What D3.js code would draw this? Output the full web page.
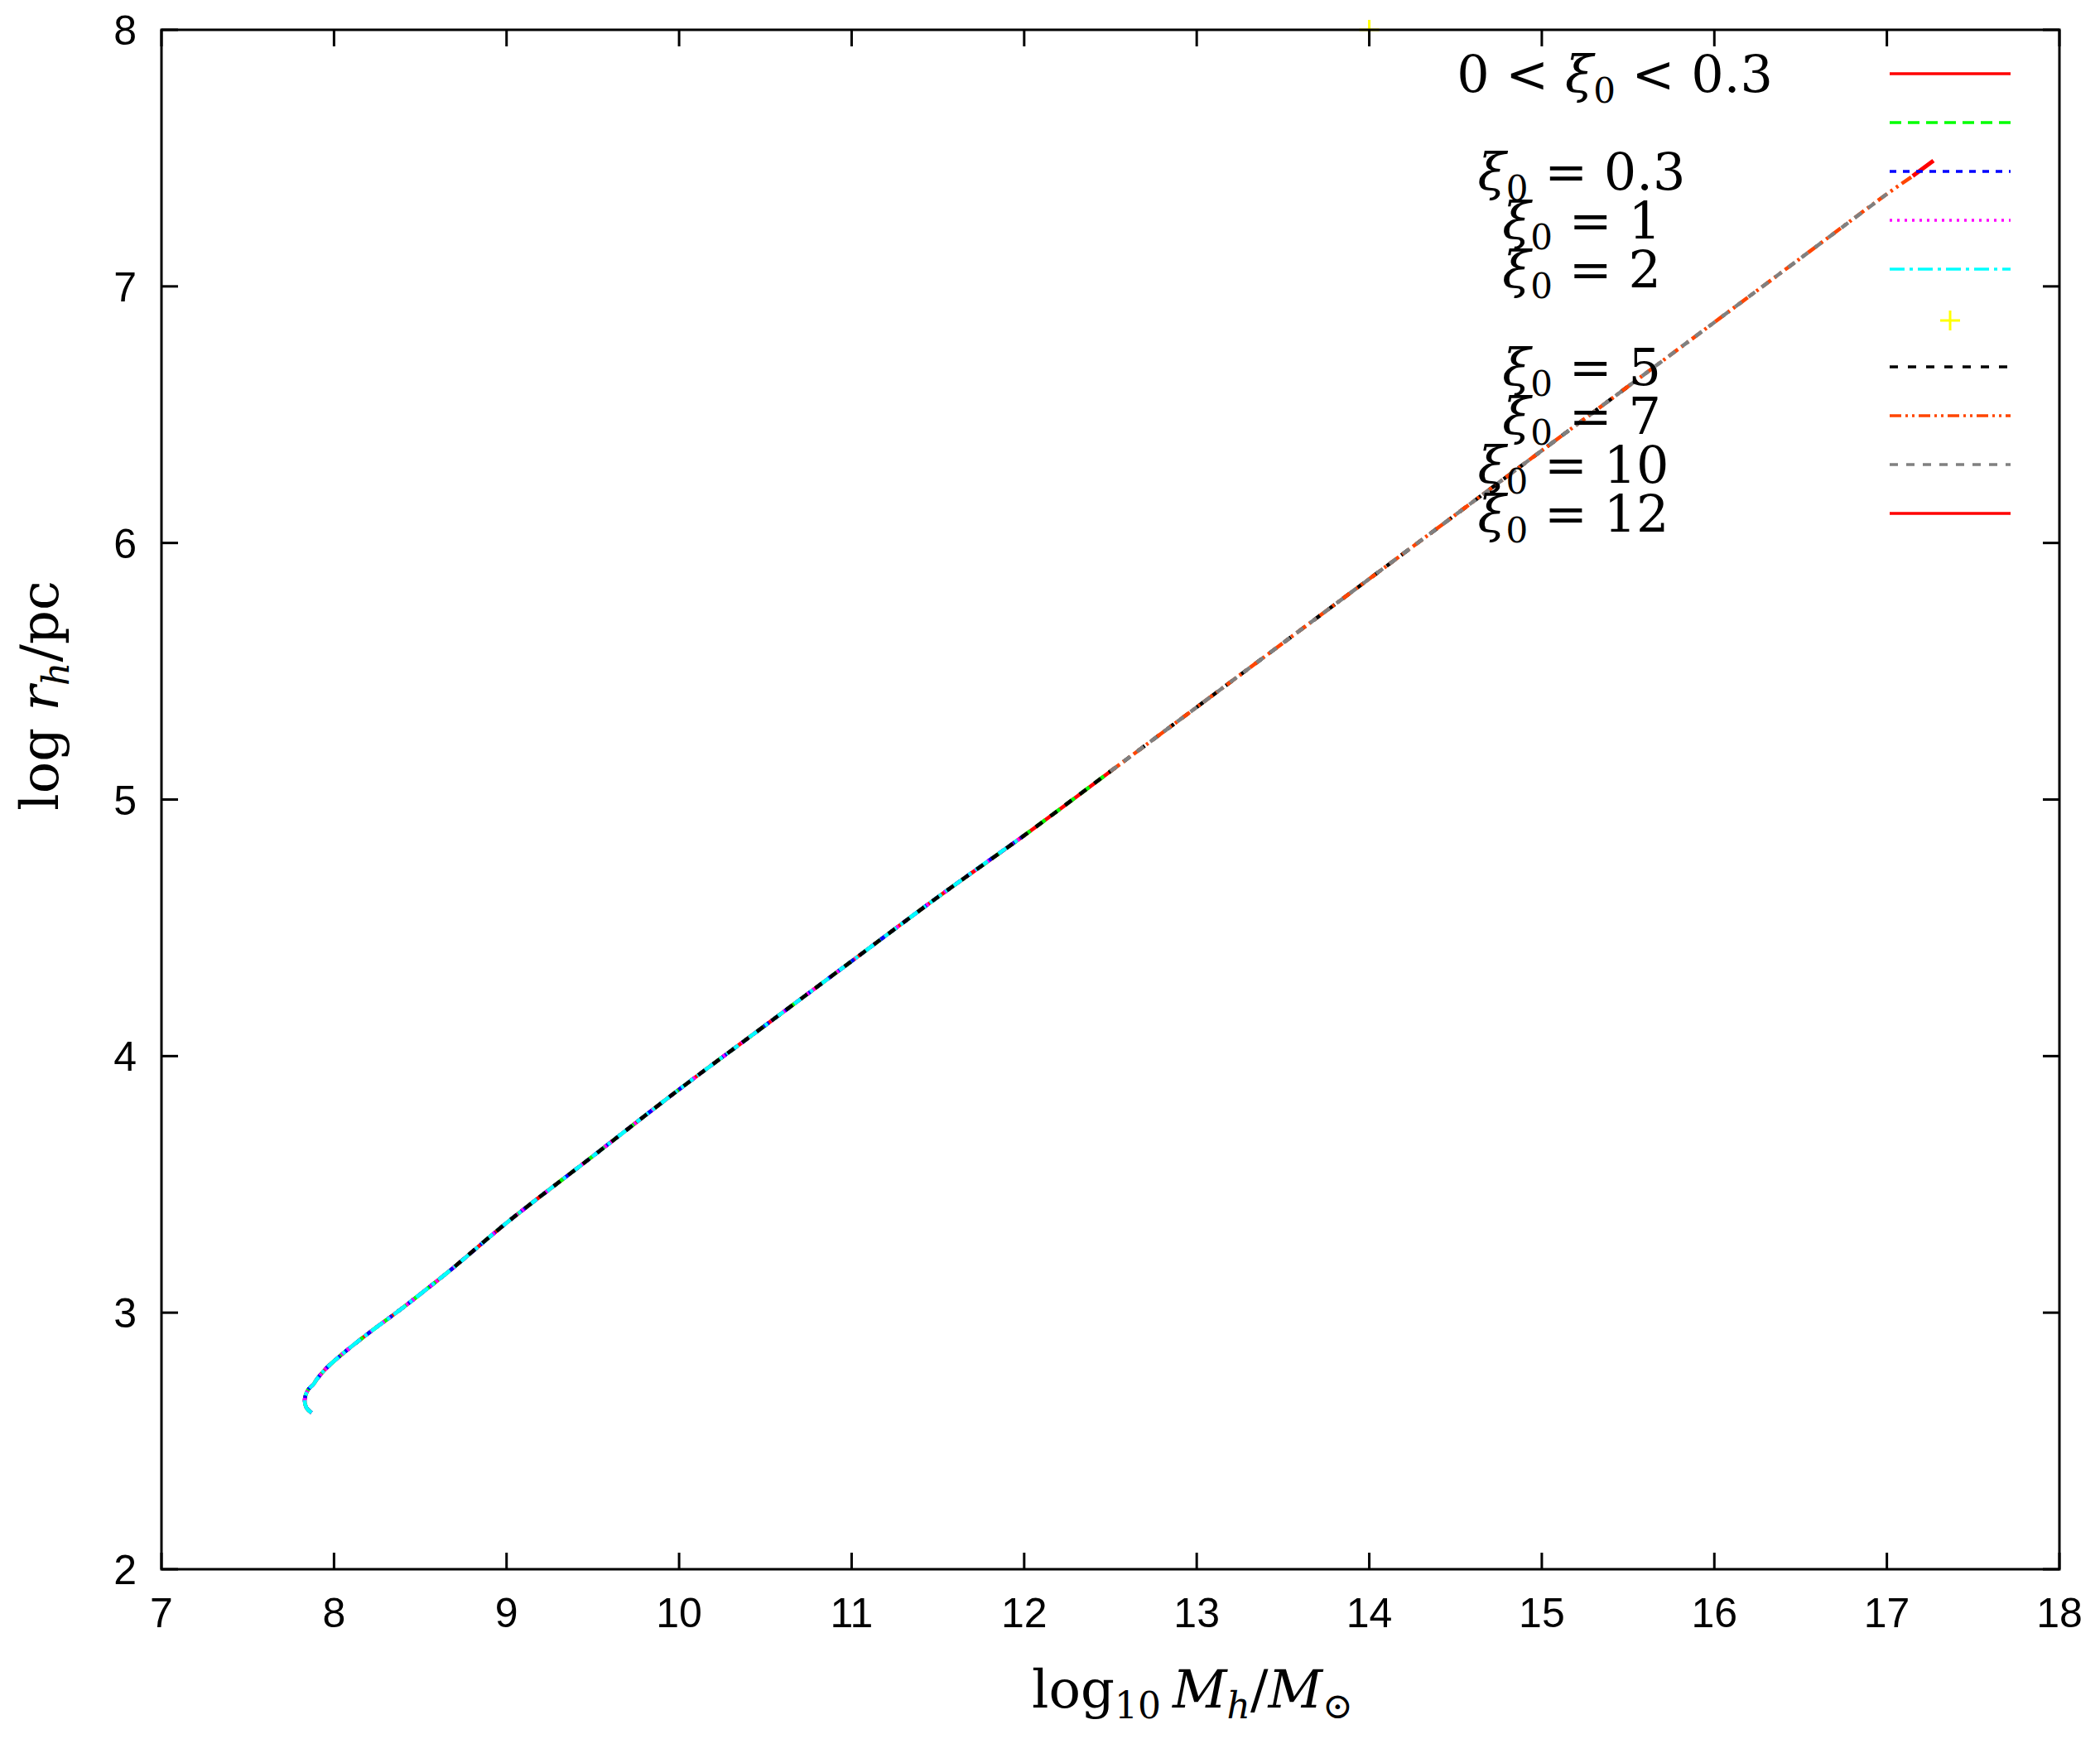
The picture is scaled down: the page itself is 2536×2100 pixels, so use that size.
<!DOCTYPE html>
<html>
<head>
<meta charset="utf-8">
<style>
body { margin: 0; background: #fff; }
</style>
</head>
<body>
<div id="graph"></div>
<script src="https://d3js.org/d3.v7.min.js"></script>
<script>
// track (log10 M_h, log r_h)
var trackX = [7.87, 7.84, 7.83, 7.85, 7.88, 7.90, 7.95, 8.05, 8.2, 8.4, 8.7, 9.0, 9.5, 10.0, 10.5, 11.0, 11.5, 12.0, 12.5, 13.0, 13.5, 14.0, 14.5, 15.0, 15.5, 16.0, 16.5, 17.0, 17.15, 17.27];
var trackY = [2.61, 2.63, 2.66, 2.70, 2.72, 2.74, 2.78, 2.84, 2.92, 3.02, 3.18, 3.35, 3.61, 3.87, 4.12, 4.37, 4.62, 4.86, 5.11, 5.36, 5.61, 5.86, 6.11, 6.36, 6.61, 6.86, 7.11, 7.36, 7.43, 7.49];

var labels = ["0 < ξ0 < 0.3", "", "ξ0 = 0.3", "ξ0 = 1", "ξ0 = 2", "", "ξ0 = 5", "ξ0 = 7", "ξ0 = 10", "ξ0 = 12"];
var colors = ["#ff0000", "#00ff00", "#0000ff", "#ff00ff", "#00ffff", "#ffff00", "#000000", "#ff4500", "#808080", "#ff0000"];
var dashes = [null, "14,8", "8,8", "3,6", "18,6,4,6", null, "10,12,10,12", "14,5,3,5,3,5", "10,10", null];
// x range each series covers along the track
var rangeMin = [7.8, 7.8, 7.8, 7.8, 7.8, 14, 8.5, 12.5, 12.5, 12.5];
var rangeMax = [12.5, 12.6, 12.0, 12.0, 12.2, 14, 15.5, 17.2, 17.1, 12.6];
var yellowX = [14.0];
var yellowY = [8.0];
var xTicks = [7, 8, 9, 10, 11, 12, 13, 14, 15, 16, 17, 18];
var yTicks = [2, 3, 4, 5, 6, 7, 8];

var W = 2536, H = 2100;
var margin = { top: 36, right: 49, bottom: 205, left: 195 };
var width = W - margin.left - margin.right;
var height = H - margin.top - margin.bottom;

var svg = d3.select("#graph").append("svg")
  .attr("width", W).attr("height", H);
var g = svg.append("g")
  .attr("transform", "translate(" + margin.left + "," + margin.top + ")");

var x = d3.scaleLinear().domain([7, 18]).range([0, width]);
var y = d3.scaleLinear().domain([2, 8]).range([height, 0]);

var pts = trackX.map(function(v, i) { return [v, trackY[i]]; });
var line = d3.line().curve(d3.curveCatmullRom)
  .x(function(d) { return x(d[0]); })
  .y(function(d) { return y(d[1]); });

var order = [0, 1, 2, 3, 9, 4, 6, 7, 8];
order.forEach(function(i) {
  var sub = pts.filter(function(d) { return (d[0] >= rangeMin[i] && d[0] <= rangeMax[i]) || (i < 5 && d[1] < 3); });
  if (sub.length < 2) return;
  g.append("path").datum(sub)
    .attr("fill", "none")
    .attr("stroke", colors[i])
    .attr("stroke-width", 4.5)
    .attr("stroke-dasharray", dashes[i])
    .attr("d", line);
});
// red tip at the upper end
g.append("path").datum(pts.slice(-2))
  .attr("fill", "none").attr("stroke", "#ff0000").attr("stroke-width", 5).attr("d", line);

// yellow points
function plus(sel, cx, cy, s) {
  sel.append("path")
    .attr("d", "M" + (cx - s) + "," + cy + "H" + (cx + s) + "M" + cx + "," + (cy - s) + "V" + (cy + s))
    .attr("stroke", "#ffff00").attr("stroke-width", 3);
}
yellowX.forEach(function(v, i) { plus(g, x(v), y(yellowY[i]), 12); });

// frame and ticks
g.append("rect").attr("width", width).attr("height", height)
  .attr("fill", "none").attr("stroke", "#000").attr("stroke-width", 3);
var tl = 20;
xTicks.forEach(function(t) {
  g.append("line").attr("x1", x(t)).attr("x2", x(t)).attr("y1", height).attr("y2", height - tl).attr("stroke", "#000").attr("stroke-width", 3);
  g.append("line").attr("x1", x(t)).attr("x2", x(t)).attr("y1", 0).attr("y2", tl).attr("stroke", "#000").attr("stroke-width", 3);
  g.append("text").attr("x", x(t)).attr("y", height + 70)
    .attr("text-anchor", "middle").style("font-family", "Liberation Sans, Arial, sans-serif")
    .style("font-size", "50px").text(t);
});
yTicks.forEach(function(t) {
  g.append("line").attr("x1", 0).attr("x2", tl).attr("y1", y(t)).attr("y2", y(t)).attr("stroke", "#000").attr("stroke-width", 3);
  g.append("line").attr("x1", width).attr("x2", width - tl).attr("y1", y(t)).attr("y2", y(t)).attr("stroke", "#000").attr("stroke-width", 3);
  g.append("text").attr("x", -30).attr("y", y(t) + 18)
    .attr("text-anchor", "end").style("font-family", "Liberation Sans, Arial, sans-serif")
    .style("font-size", "50px").text(t);
});

var serif = "DejaVu Serif, Liberation Serif, serif";

// axis labels
var xl = svg.append("text").attr("x", 1440).attr("y", 2062).attr("text-anchor", "middle")
  .style("font-family", serif).style("font-size", "64px");
xl.append("tspan").text("log");
xl.append("tspan").attr("baseline-shift", "-30%").style("font-size", "44px").text("10");
xl.append("tspan").attr("dx", 14).style("font-style", "italic").text("M");
xl.append("tspan").attr("baseline-shift", "-30%").style("font-size", "44px").style("font-style", "italic").text("h");
xl.append("tspan").text("/");
xl.append("tspan").style("font-style", "italic").text("M");
xl.append("tspan").attr("baseline-shift", "-30%").style("font-size", "44px").text("⊙");

var yl = svg.append("text").attr("transform", "translate(70,840) rotate(-90)").attr("text-anchor", "middle")
  .style("font-family", serif).style("font-size", "64px");
yl.append("tspan").text("log ");
yl.append("tspan").style("font-style", "italic").text("r");
yl.append("tspan").attr("baseline-shift", "-30%").style("font-size", "44px").style("font-style", "italic").text("h");
yl.append("tspan").text("/pc");

// legend
var legY = [89, 148, 207, 266, 325, 384, 443, 502, 561, 620];
var legCx = [1950, 0, 1910, 1910, 1910, 0, 1910, 1910, 1900, 1900];
var sx1 = 2282, sx2 = 2428;
labels.forEach(function(lab, i) {
  if (i === 5) {
    plus(svg, (sx1 + sx2) / 2, legY[i] + 3, 12);
  } else {
    svg.append("line").attr("x1", sx1).attr("x2", sx2).attr("y1", legY[i]).attr("y2", legY[i])
      .attr("stroke", colors[i]).attr("stroke-width", 3.5).attr("stroke-dasharray", dashes[i]);
  }
  if (!lab) return;
  var t = svg.append("text").attr("x", legCx[i]).attr("y", legY[i] + 22)
    .attr("text-anchor", "middle").style("font-family", serif).style("font-size", "62px");
  var parts = lab.split("ξ0");
  t.append("tspan").text(parts[0]);
  t.append("tspan").style("font-style", "italic").text("ξ");
  t.append("tspan").attr("baseline-shift", "-30%").style("font-size", "42px").text("0");
  t.append("tspan").text(parts[1]);
});
</script>
</body>
</html>
